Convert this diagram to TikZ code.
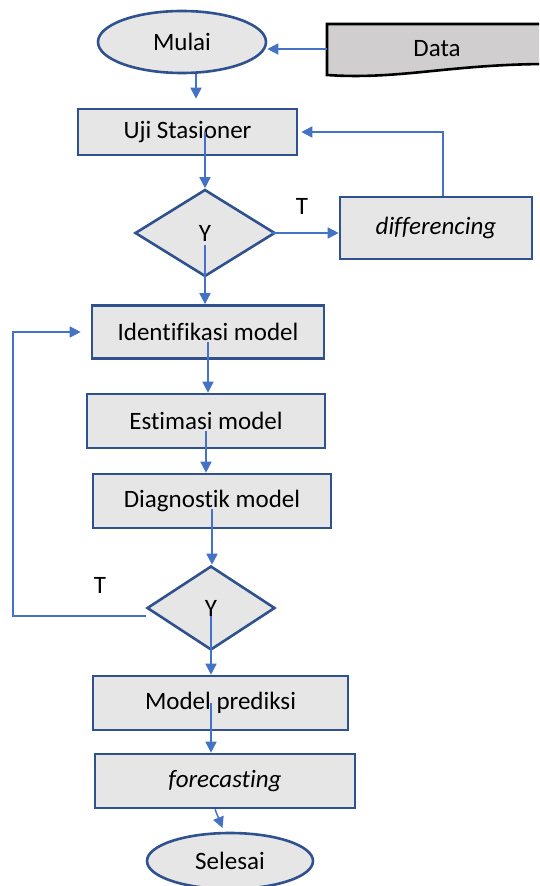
\documentclass[tikz,border=0pt]{standalone}
\usepackage{fontspec}
\setmainfont{Carlito}[Ligatures=NoCommon]
\usetikzlibrary{shapes.geometric,arrows.meta}
\definecolor{boxgray}{RGB}{231,230,230}
\definecolor{datagray}{RGB}{208,206,206}
\definecolor{edgeblue}{RGB}{47,82,143}
\definecolor{lineblue}{RGB}{68,114,196}
\tikzset{
  proc/.style={rectangle, draw=edgeblue, line width=2.6pt, fill=boxgray, inner sep=0pt},
  term/.style={ellipse, draw=edgeblue, line width=2.6pt, fill=boxgray, inner sep=0pt},
  decide/.style={diamond, draw=edgeblue, line width=2.6pt, fill=boxgray, inner sep=0pt},
  arr/.style={draw=lineblue, line width=1.5pt, -{Triangle[length=11pt,width=11pt]}},
}
\begin{document}
\begin{tikzpicture}[x=1pt,y=-1pt,font=\fontsize{25}{30}\selectfont]
\clip (0,0) rectangle (539,886);
\fill[white] (0,0) rectangle (539,886);

\draw[black, line width=2.6pt, fill=datagray] (327,24) -- (550,24) -- (550,64) .. controls (450,64) and (400,80) .. (327,75) -- cycle;
\node[minimum width=220pt, minimum height=52pt] (data) at (437,49) {Data};
\node[term, minimum width=168pt, minimum height=62pt] (mulai) at (182,42) {Mulai};
\node[proc, minimum width=219pt, minimum height=46pt] (uji) at (187.5,132) {Uji Stasioner};
\node[decide, minimum width=140pt, minimum height=87pt] (d1) at (205,233) {Y};
\node[proc, minimum width=192pt, minimum height=62pt] (diff) at (436,228) {\itshape differencing};
\node[proc, minimum width=232pt, minimum height=53pt] (ident) at (208,332) {Identifikasi model};
\node[proc, minimum width=238pt, minimum height=54pt] (estim) at (206,421) {Estimasi model};
\node[proc, minimum width=238pt, minimum height=54pt] (diag) at (212,501) {Diagnostik model};
\node[decide, minimum width=128pt, minimum height=84pt] (d2) at (211,608) {Y};
\node[proc, minimum width=255pt, minimum height=54pt] (model) at (220.5,703) {Model prediksi};
\node[proc, minimum width=260pt, minimum height=54pt] (fore) at (225,781) {\itshape forecasting};
\node[term, minimum width=166pt, minimum height=56pt] (selesai) at (230,861) {Selesai};
\node (t1) at (302,206) {T};
\node (t2) at (100,585) {T};
\coordinate (back) at (13,332);

\draw[arr] (data.west) -- (data.west -| mulai.east);
\draw[arr, shorten >=9pt] ([xshift=14pt]mulai.south) -- ([xshift=14pt]mulai.south |- uji.north);
\draw[arr] (uji.center -| d1.north) -- (d1.north);
\draw[arr] ([xshift=-5pt]d1.east) -- (d1.east -| diff.west);
\draw[arr, shorten >=3pt] ([xshift=7pt]diff.north) |- (uji.east);
\draw[arr] ([yshift=-12pt]d1.center) -- (d1.center |- ident.north);
\draw[arr] ([yshift=-10pt]ident.center) -- (ident.center |- estim.north);
\draw[arr] ([yshift=-10pt]estim.center) -- (estim.center |- diag.north);
\draw[arr] ([yshift=-8pt]diag.center) -- (diag.center |- d2.north);
\draw[arr, shorten >=10pt] ([yshift=-8pt]d2.west) -| (back) -- (ident.west);
\draw[arr] ([yshift=-8pt]d2.center) -- (d2.center |- model.north);
\draw[arr] (model.center -| d2.center) -- (fore.north -| d2.center);
\draw[arr, shorten >=4pt] ([xshift=-10pt]fore.south) -- ([xshift=-6pt]selesai.north);
\end{tikzpicture}
\end{document}
